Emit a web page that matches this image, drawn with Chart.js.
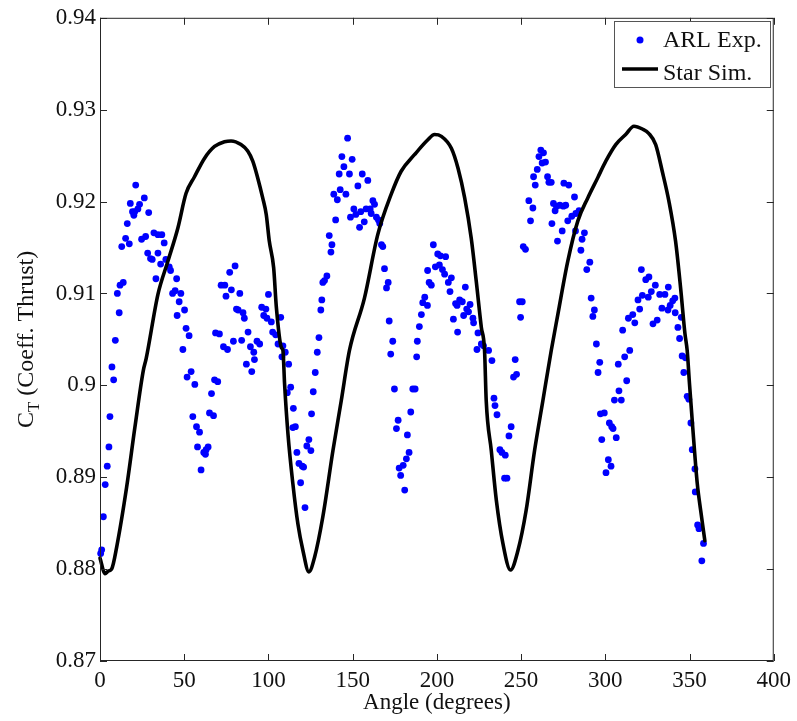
<!DOCTYPE html>
<html>
<head>
<meta charset="utf-8">
<script src="https://cdn.jsdelivr.net/npm/chart.js@4.4.1/dist/chart.umd.min.js"></script>
<style>
html,body{margin:0;padding:0;background:#ffffff;}
#wrap{width:797px;height:721px;position:relative;}
</style>
</head>
<body>
<div id="wrap"><canvas id="c" width="797" height="721"></canvas></div>
<script>
// ---- ARL experiment (scatter) ----
const arlAngle = [0.4,1.0,2.0,3.1,4.3,5.3,5.9,7.1,8.1,9.1,10.3,11.4,11.9,13.8,12.9,15.2,16.2,17.4,18.0,21.2,
23.5,22.5,20.6,19.3,20.1,26.3,28.9,24.7,27.1,32.0,34.4,36.7,38.1,28.3,30.0,31.0,34.4,36.0,39.1,41.1,
41.9,33.2,45.5,43.1,44.6,48.0,47.0,50.2,45.8,51.1,52.9,49.2,51.7,54.1,56.3,55.1,57.3,59.1,57.9,60.0,
61.6,62.6,63.0,64.2,65.0,67.4,66.2,68.0,69.9,68.6,70.9,71.9,74.1,73.3,75.7,74.8,77.0,78.0,79.2,80.2,
81.0,82.0,83.0,84.1,84.9,85.7,86.9,87.9,89.3,90.1,91.3,91.7,93.2,94.8,96.0,98.5,97.2,99.1,100.0,101.7,
107.3,102.5,104.3,105.7,108.6,110.0,108.0,112.0,113.2,111.2,114.8,114.5,116.0,116.9,118.1,120.1,120.9,119.1,121.7,124.0,
122.8,125.2,125.6,126.6,127.8,129.0,130.0,131.1,131.7,132.3,133.3,134.7,136.1,137.1,137.7,138.8,139.9,140.9,142.0,142.6,
143.6,144.8,146.0,147.0,148.1,148.7,149.7,150.7,151.9,153.1,154.1,154.8,155.7,156.9,158.0,159.0,160.4,161.0,162.0,163.0,
164.1,165.3,166.1,167.1,167.9,168.9,170.1,171.1,171.7,173.8,172.6,174.8,177.0,176.0,178.5,177.6,180.0,180.9,181.9,183.5,
182.5,184.5,185.7,187.1,188.0,188.4,189.6,190.8,191.6,194.4,192.8,194.5,195.4,196.7,197.9,200.5,202.1,205.2,199.1,201.5,
203.3,204.6,208.6,206.8,207.8,216.9,213.5,215.1,211.1,212.0,219.7,217.7,218.8,215.9,221.4,221.8,209.8,212.3,224.4,226.4,
227.7,223.8,230.7,232.7,233.9,234.5,235.7,237.4,238.6,240.6,240.2,241.6,242.8,244.1,245.5,247.3,246.5,249.1,250.7,249.7,
251.3,252.6,254.6,255.6,257.0,257.4,258.4,259.6,260.6,261.7,263.3,264.5,262.5,265.7,266.5,267.9,268.3,269.2,270.2,271.0,
271.6,273.0,274.4,275.1,275.4,276.5,277.7,278.3,280.1,281.7,282.5,282.3,284.4,285.5,286.2,287.6,289.0,290.8,291.6,293.5,
292.6,294.7,296.7,295.7,297.1,297.9,299.4,302.4,303.8,304.6,301.8,303.4,300.4,306.5,305.4,309.5,308.1,307.7,312.7,311.5,
314.5,310.3,316.3,313.7,317.5,320.4,319.4,322.0,321.4,324.0,325.9,325.5,327.3,329.7,328.3,330.8,332.3,335.4,333.6,337.4,
337.2,338.5,340.0,341.3,341.5,345.1,343.1,344.1,345.6,347.6,346.6,348.6,349.6,350.8,351.6,353.2,353.4,354.8,355.6,358.3,
357.3];
const arlCt = [0.8817,0.8821,0.8857,0.8892,0.8912,0.8933,0.8966,0.9020,0.9006,0.9049,0.9100,0.9079,0.9109,0.9112,0.9151,0.9160,0.9176,0.9154,0.9198,0.9218,
0.9197,0.9192,0.9189,0.9189,0.9185,0.9204,0.9188,0.9159,0.9162,0.9166,0.9164,0.9164,0.9155,0.9144,0.9138,0.9137,0.9144,0.9132,0.9137,0.9129,
0.9125,0.9116,0.9116,0.9100,0.9103,0.9100,0.9091,0.9082,0.9076,0.9062,0.9054,0.9039,0.9009,0.9015,0.9001,0.8966,0.8955,0.8949,0.8933,0.8908,
0.8927,0.8925,0.8930,0.8933,0.8970,0.8967,0.8991,0.9006,0.9004,0.9057,0.9056,0.9109,0.9109,0.9042,0.9039,0.9097,0.9123,0.9104,0.9048,0.9130,
0.9083,0.9082,0.9100,0.9049,0.9079,0.9073,0.9023,0.9058,0.9042,0.9015,0.9036,0.9028,0.9048,0.9045,0.9085,0.9083,0.9076,0.9073,0.9099,0.9069,
0.9074,0.9058,0.9055,0.9045,0.9043,0.9036,0.9031,0.9023,0.8998,0.8992,0.8975,0.8954,0.8955,0.8927,0.8915,0.8912,0.8911,0.8894,0.8867,0.8941,
0.8934,0.8929,0.8969,0.8993,0.9014,0.9036,0.9052,0.9082,0.9093,0.9112,0.9114,0.9119,0.9163,0.9145,0.9153,0.9208,0.9180,0.9202,0.9230,0.9213,
0.9249,0.9238,0.9208,0.9269,0.9230,0.9183,0.9246,0.9192,0.9186,0.9217,0.9172,0.9189,0.9230,0.9178,0.9192,0.9223,0.9192,0.9187,0.9201,0.9197,
0.9183,0.9180,0.9176,0.9153,0.9151,0.9127,0.9106,0.9112,0.9070,0.9048,0.9034,0.8996,0.8962,0.8953,0.8902,0.8910,0.8913,0.8886,0.8920,0.8927,
0.8946,0.8971,0.8996,0.8996,0.9031,0.9048,0.9064,0.9077,0.9090,0.9087,0.9096,0.9125,0.9112,0.9109,0.9153,0.9143,0.9141,0.9140,0.9129,0.9131,
0.9126,0.9121,0.9117,0.9112,0.9102,0.9107,0.9093,0.9091,0.9089,0.9087,0.9088,0.9083,0.9080,0.9076,0.9073,0.9068,0.9072,0.9058,0.9057,0.9045,
0.9043,0.9039,0.9038,0.9027,0.8986,0.8978,0.8968,0.8930,0.8927,0.8924,0.8899,0.8899,0.8945,0.8955,0.9009,0.9012,0.9028,0.9091,0.9091,0.9074,
0.9151,0.9148,0.9201,0.9179,0.9193,0.9227,0.9218,0.9235,0.9249,0.9256,0.9253,0.9243,0.9242,0.9227,0.9221,0.9221,0.9176,0.9198,0.9190,0.9195,
0.9157,0.9196,0.9168,0.9195,0.9220,0.9196,0.9179,0.9218,0.9184,0.9205,0.9187,0.9168,0.9190,0.9147,0.9159,0.9166,0.9126,0.9134,0.9095,0.9082,
0.9075,0.9045,0.9025,0.9014,0.8969,0.8941,0.8970,0.8959,0.8955,0.8953,0.8919,0.8912,0.8905,0.8943,0.8984,0.8984,0.8994,0.9023,0.9005,0.9031,
0.9038,0.9060,0.9077,0.9073,0.9068,0.9083,0.9093,0.9098,0.9126,0.9115,0.9118,0.9096,0.9102,0.9109,0.9067,0.9071,0.9099,0.9099,0.9084,0.9107,
0.9082,0.9087,0.9092,0.9095,0.9079,0.9074,0.9063,0.9051,0.9032,0.9030,0.9014,0.8988,0.8985,0.8959,0.8930,0.8909,0.8884,0.8848,0.8844,0.8828,
0.8809];

// ---- Star simulation (line) ----
const simAngle = [0.0,3.0,5.0,6.9,9.9,15.8,20.7,25.7,27.4,34.4,40.3,46.2,51.1,56.1,62.0,68.0,73.9,77.8,83.7,
87.7,90.7,93.6,96.6,98.7,100.5,103.1,104.7,107.7,108.6,109.6,111.6,114.5,117.5,120.5,124.0,127.4,132.3,138.3,143.2,
148.1,157.0,164.9,172.9,178.8,186.7,194.5,198.6,202.7,208.6,212.6,216.5,220.4,223.4,226.4,228.3,229.3,232.3,235.3,239.2,
243.7,248.1,253.0,258.0,262.9,267.9,271.8,277.7,283.7,289.6,295.5,300.3,306.2,312.1,317.0,322.0,325.9,329.9,333.8,337.8,
341.7,344.7,347.3,348.6,350.0,352.2,354.6,356.6,359.1];
const simCt = [0.8812,0.8795,0.8798,0.8800,0.8824,0.8889,0.8954,0.9016,0.9029,0.9099,0.9135,0.9171,0.9209,0.9227,0.9247,0.9260,0.9265,0.9266,0.9262,
0.9255,0.9244,0.9226,0.9204,0.9186,0.9157,0.9128,0.9085,0.9041,0.9038,0.9001,0.8947,0.8893,0.8849,0.8820,0.8797,0.8813,0.8857,0.8929,0.8983,
0.9038,0.9095,0.9164,0.9208,0.9233,0.9251,0.9267,0.9273,0.9271,0.9258,0.9236,0.9204,0.9160,0.9113,0.9063,0.9038,0.8983,0.8929,0.8875,0.8828,
0.8799,0.8820,0.8864,0.8929,0.8983,0.9038,0.9077,0.9135,0.9179,0.9204,0.9226,0.9244,0.9262,0.9273,0.9282,0.9279,0.9274,0.9262,0.9233,0.9200,
0.9157,0.9106,0.9056,0.9038,0.9001,0.8947,0.8893,0.8864,0.8831];

// ---- axes ----
const xTicks = [0,50,100,150,200,250,300,350,400];
const xTickLabels = ['0','50','100','150','200','250','300','350','400'];
const yTicks = [0.87,0.88,0.89,0.90,0.91,0.92,0.93,0.94];
const yTickLabels = ['0.87','0.88','0.89','0.9','0.91','0.92','0.93','0.94'];
const xTitle = 'Angle (degrees)';
const yTitleMain = 'C', yTitleSub = 'T', yTitleRest = ' (Coeff. Thrust)';
const seriesNames = ['ARL Exp.', 'Star Sim.'];

const FONT = "'Liberation Serif','Times New Roman',serif";
const AXIS = '#262626';
const BLUE = '#0000ff';

const framePlugin = {
  id: 'frame',
  afterDatasetsDraw(chart) {
    const ctx = chart.ctx, a = chart.chartArea;
    const xs = chart.scales.x, ys = chart.scales.y;
    ctx.save();
    ctx.strokeStyle = AXIS;
    ctx.lineWidth = 1;
    ctx.strokeRect(a.left + 0.5, a.top + 0.5, a.right - a.left - 1, a.bottom - a.top - 1);
    const TL = 7;
    ctx.beginPath();
    xTicks.forEach(v => {
      const px = Math.round(xs.getPixelForValue(v)) + 0.5;
      ctx.moveTo(px, a.bottom); ctx.lineTo(px, a.bottom - TL);
      ctx.moveTo(px, a.top); ctx.lineTo(px, a.top + TL);
    });
    yTicks.forEach(v => {
      const py = Math.round(ys.getPixelForValue(v)) + 0.5;
      ctx.moveTo(a.left, py); ctx.lineTo(a.left + TL, py);
      ctx.moveTo(a.right, py); ctx.lineTo(a.right - TL, py);
    });
    ctx.stroke();
    ctx.restore();
  },
  afterDraw(chart) {
    const ctx = chart.ctx, a = chart.chartArea;
    ctx.save();
    ctx.fillStyle = '#111';
    // x title
    ctx.font = '23px ' + FONT;
    ctx.textAlign = 'center';
    ctx.textBaseline = 'alphabetic';
    ctx.fillText(xTitle, (a.left + a.right) / 2, 709);
    // y title (rotated, with subscript)
    const mainFont = '24px ' + FONT, subFont = '17px ' + FONT;
    ctx.font = mainFont; const w1 = ctx.measureText(yTitleMain).width;
    ctx.font = subFont; const w2 = ctx.measureText(yTitleSub).width;
    ctx.font = mainFont; const w3 = ctx.measureText(yTitleRest).width;
    const total = w1 + w2 + w3;
    ctx.translate(33, (a.top + a.bottom) / 2);
    ctx.rotate(-Math.PI / 2);
    ctx.textAlign = 'left';
    let x0 = -total / 2;
    ctx.font = mainFont; ctx.fillText(yTitleMain, x0, 0);
    ctx.font = subFont; ctx.fillText(yTitleSub, x0 + w1, 6);
    ctx.font = mainFont; ctx.fillText(yTitleRest, x0 + w1 + w2, 0);
    ctx.restore();

    // legend
    ctx.save();
    const L = 614.5, T = 21.5, W = 156, H = 66;
    ctx.fillStyle = '#ffffff';
    ctx.fillRect(L, T, W, H);
    ctx.strokeStyle = '#555';
    ctx.lineWidth = 1;
    ctx.strokeRect(L, T, W, H);
    ctx.fillStyle = BLUE;
    ctx.beginPath(); ctx.arc(640, 40, 3.5, 0, Math.PI * 2); ctx.fill();
    ctx.strokeStyle = '#000'; ctx.lineWidth = 3.5;
    ctx.beginPath(); ctx.moveTo(622, 69); ctx.lineTo(658, 69); ctx.stroke();
    ctx.fillStyle = '#111';
    ctx.font = '24px ' + FONT;
    ctx.textAlign = 'left'; ctx.textBaseline = 'alphabetic';
    ctx.fillText(seriesNames[0], 663, 47);
    ctx.fillText(seriesNames[1], 663, 80);
    ctx.restore();
  }
};

new Chart(document.getElementById('c'), {
  type: 'scatter',
  data: {
    datasets: [
      {
        label: seriesNames[1],
        data: simAngle.map((x, i) => ({x: x, y: simCt[i]})),
        showLine: true,
        borderColor: '#000000',
        backgroundColor: '#000000',
        borderWidth: 3.6,
        pointRadius: 0,
        cubicInterpolationMode: 'monotone',
        borderJoinStyle: 'round',
        borderCapStyle: 'round',
        order: 0,
        clip: false
      },
      {
        label: seriesNames[0],
        data: arlAngle.map((x, i) => ({x: x, y: arlCt[i]})),
        showLine: false,
        pointRadius: 3.4,
        pointBorderWidth: 0,
        pointBackgroundColor: BLUE,
        pointBorderColor: BLUE,
        order: 1,
        clip: false
      }
    ]
  },
  options: {
    responsive: false,
    devicePixelRatio: 1,
    animation: false,
    events: [],
    layout: { padding: { left: 0, right: 22, top: 16, bottom: 0 } },
    plugins: { legend: { display: false }, tooltip: { enabled: false }, title: { display: false } },
    scales: {
      x: {
        type: 'linear', position: 'bottom', min: 0, max: 400,
        afterBuildTicks: s => { s.ticks = xTicks.map(v => ({value: v})); },
        afterFit: s => { s.height = 60; },
        grid: { display: false, drawTicks: false },
        border: { display: false },
        ticks: { padding: 6, color: '#111', font: { family: FONT, size: 23 }, maxRotation: 0,
                 callback: (v, i) => xTickLabels[i] }
      },
      y: {
        type: 'linear', position: 'left', min: 0.87, max: 0.94,
        afterBuildTicks: s => { s.ticks = yTicks.map(v => ({value: v})); },
        afterFit: s => { s.width = 100; },
        grid: { display: false, drawTicks: false },
        border: { display: false },
        ticks: { padding: 4, color: '#111', font: { family: FONT, size: 23 },
                 callback: (v, i) => yTickLabels[i] }
      }
    }
  },
  plugins: [framePlugin]
});
</script>
</body>
</html>
